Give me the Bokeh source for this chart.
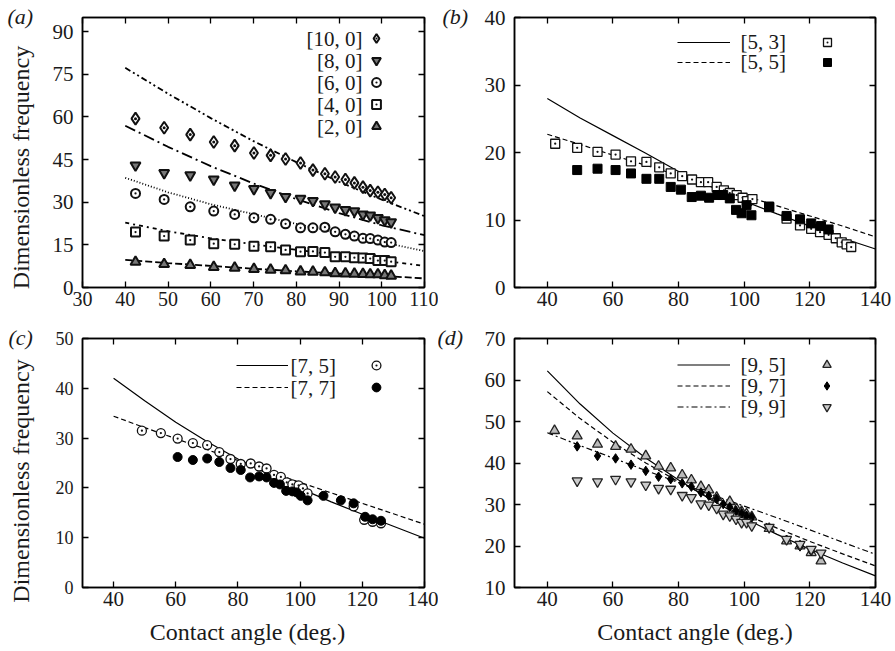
import math
from bokeh.plotting import figure
from bokeh.models import Range1d, LinearAxis, FixedTicker, Label, Legend, LegendItem
from bokeh.layouts import column, row
from bokeh.embed import file_html
from bokeh.resources import INLINE

FONT = "Liberation Serif"
INK = "#1a1a1a"
NB = "\u00a0"

# ---------------- data ----------------
# curve sample angles
line_x_a = [40, 50, 60, 70, 80, 90, 100, 110]
line_x = [40, 50, 60, 70, 80, 90, 100, 110, 120, 130, 140]

# panel (a): [n, 0] modes
a_angle = [42.4, 49.1, 55.2, 60.7, 65.6, 70.1, 74.0, 77.5, 81.0, 83.9, 86.7,
           89.1, 91.5, 93.6, 95.6, 97.3, 99.1, 100.7, 102.2]
a_10_0 = [59.4, 56.2, 53.8, 51.2, 49.9, 47.3, 46.5, 45.2, 43.8, 41.3, 40.0,
          38.9, 38.0, 36.8, 35.3, 34.1, 33.5, 32.7, 31.6]
a_8_0 = [43.0, 40.3, 39.5, 38.0, 35.9, 34.7, 33.3, 31.9, 31.3, 30.5, 29.3,
         28.2, 27.3, 26.9, 25.7, 25.4, 24.5, 23.7, 23.0]
a_6_0 = [33.1, 31.0, 28.4, 26.9, 25.7, 24.5, 24.0, 22.4, 21.0, 21.0, 21.2,
         19.6, 18.7, 18.1, 17.3, 17.2, 16.7, 16.0, 15.8]
a_4_0 = [19.5, 18.1, 16.7, 15.4, 15.2, 14.5, 14.3, 13.2, 12.6, 12.7, 12.3,
         10.8, 10.8, 10.5, 10.4, 10.2, 9.5, 9.5, 9.1]
a_2_0 = [9.0, 8.2, 7.9, 7.2, 6.9, 6.5, 6.2, 6.0, 5.6, 5.5, 5.3,
         5.0, 4.9, 4.8, 4.7, 4.6, 4.6, 4.3, 4.1]
a_line_10_0 = [77.3, 68.2, 59.6, 51.5, 44.1, 37.2, 30.9, 25.1]
a_line_8_0 = [56.9, 49.5, 42.7, 36.6, 31.1, 26.2, 21.9, 18.4]
a_line_6_0 = [38.6, 33.5, 29.3, 25.8, 22.4, 19.2, 16.0, 12.8]
a_line_4_0 = [22.8, 19.8, 17.3, 15.2, 13.3, 11.4, 9.5, 7.6]
a_line_2_0 = [9.7, 8.6, 7.6, 6.6, 5.7, 4.9, 4.1, 3.2]

# panel (b)
b_53_x = [42.4, 49.1, 55.3, 60.8, 65.5, 70.2, 74.1, 77.6, 81.1, 84.1, 86.8, 89.0,
          91.6, 93.8, 95.6, 97.7, 99.5, 100.9, 102.5, 107.6, 112.9, 117.0, 120.4,
          123.1, 125.7, 127.9, 129.7, 131.2, 132.6]
b_53_y = [21.3, 20.7, 20.1, 19.7, 18.7, 18.6, 17.8, 16.9, 16.5, 16.0, 15.6, 15.6,
          14.9, 14.4, 14.0, 13.7, 13.3, 12.8, 13.1, 11.9, 10.2, 9.2, 8.7,
          8.2, 7.8, 7.3, 6.7, 6.4, 6.0]
b_55_x = [49.1, 55.3, 60.8, 65.5, 70.2, 74.1, 77.6, 80.7, 84.0, 86.8, 89.3, 91.8,
          93.6, 95.6, 97.5, 99.2, 100.7, 102.2, 107.6, 112.9, 117.0, 120.4, 123.4, 125.7]
b_55_y = [17.4, 17.6, 17.4, 16.9, 16.1, 16.1, 14.9, 14.5, 13.4, 13.6, 13.3, 13.7,
          13.7, 13.2, 11.5, 11.0, 12.2, 10.7, 12.0, 10.6, 10.1, 9.5, 9.1, 8.6]
b_line_53 = [28.0, 25.1, 22.5, 19.9, 17.2, 14.9, 12.8, 10.9, 9.1, 7.3, 5.7]
b_line_55 = [22.7, 21.2, 19.6, 18.1, 16.6, 15.1, 13.6, 12.1, 10.6, 9.1, 7.5]

# panel (c)
c_75_x = [49.1, 55.2, 60.6, 65.5, 70.1, 74.0, 77.6, 80.9, 84.1, 86.8, 89.2, 91.6,
          93.8, 95.7, 97.5, 99.5, 100.9, 102.4, 117.2, 120.6, 123.3, 126.0]
c_75_y = [31.5, 31.0, 29.9, 29.0, 28.6, 27.2, 25.8, 24.8, 24.9, 24.3, 23.9, 22.6,
          22.2, 21.1, 20.7, 20.5, 19.9, 18.9, 16.3, 13.6, 13.2, 12.9]
c_77_x = [60.6, 65.5, 70.1, 74.0, 77.6, 80.9, 83.9, 86.8, 89.2, 91.6, 93.5, 95.5,
          97.5, 98.9, 100.2, 102.4, 107.5, 113.1, 117.2, 120.9, 123.3, 126.0]
c_77_y = [26.2, 25.6, 25.9, 25.2, 24.0, 23.6, 22.1, 22.3, 22.1, 21.0, 20.7, 19.4,
          19.3, 19.1, 18.4, 17.5, 18.4, 17.5, 16.9, 14.2, 13.7, 13.4]
c_line_75 = [42.0, 37.5, 33.2, 29.3, 25.8, 22.7, 19.9, 17.2, 14.7, 12.3, 9.9]
c_line_77 = [34.4, 32.1, 29.9, 27.7, 25.5, 23.3, 21.1, 19.0, 16.9, 14.8, 12.7]

# panel (d)
d_95_x = [42.2, 49.1, 55.3, 60.8, 65.5, 70.0, 73.9, 77.6, 81.1, 83.9, 86.8, 89.2,
          91.6, 95.6, 97.7, 99.2, 100.7, 102.3, 107.6, 112.9, 117.0, 120.4, 123.4]
d_95_y = [47.8, 46.5, 44.5, 44.0, 43.3, 41.7, 39.2, 38.8, 37.1, 35.9, 34.3, 33.5,
          31.7, 30.7, 28.9, 28.3, 27.7, 27.0, 24.2, 21.2, 20.0, 18.4, 16.4]
d_97_x = [49.1, 55.3, 60.8, 65.5, 70.0, 73.9, 77.6, 81.1, 83.9, 86.8, 89.2, 91.6,
          93.6, 95.6, 97.5, 99.2, 100.7, 102.3, 112.9, 117.0, 120.4]
d_97_y = [44.0, 41.7, 41.1, 39.6, 38.1, 36.7, 36.1, 35.1, 34.3, 32.9, 32.1, 31.4,
          30.1, 29.4, 28.5, 27.9, 27.3, 26.9, 21.5, 19.9, 18.8]
d_99_x = [49.1, 55.3, 60.8, 65.5, 70.0, 73.9, 77.6, 81.1, 83.9, 86.8, 89.2, 91.6,
          93.6, 95.6, 97.5, 99.2, 100.7, 102.3, 107.6, 112.9, 117.0, 120.4, 123.4]
d_99_y = [35.7, 35.5, 36.1, 35.5, 34.7, 33.9, 33.7, 32.2, 31.7, 30.2, 29.9, 29.1,
          27.7, 27.3, 26.5, 25.7, 25.7, 24.9, 24.5, 21.6, 20.4, 19.2, 18.3]
d_line_95 = [62.2, 54.2, 47.2, 41.2, 35.9, 31.1, 26.7, 22.8, 19.2, 15.9, 12.8]
d_line_97 = [57.2, 50.7, 45.0, 40.0, 35.5, 31.4, 27.7, 24.3, 21.1, 18.1, 15.2]
d_line_99 = [47.3, 44.2, 41.2, 38.2, 35.3, 32.4, 29.6, 26.8, 23.9, 20.9, 18.0]

labels_a = ["[10, 0]", "[8, 0]", "[6, 0]", "[4, 0]", "[2, 0]"]
labels_b = ["[5, 3]", "[5, 5]"]
labels_c = ["[7, 5]", "[7, 7]"]
labels_d = ["[9, 5]", "[9, 7]", "[9, 9]"]

ticks_a_x = [30, 40, 50, 60, 70, 80, 90, 100, 110]
ticks_a_y = [0, 15, 30, 45, 60, 75, 90]
ticks_x = [40, 60, 80, 100, 120, 140]
ticks_b_y = [0, 10, 20, 30, 40]
ticks_c_y = [0, 10, 20, 30, 40, 50]
ticks_d_y = [10, 20, 30, 40, 50, 60, 70]

Y_TITLE = "Dimensionless frequency"
X_TITLE = "Contact angle (deg.)"


# ---------------- helpers ----------------
def style_axis(ax, ticks, size, standoff, show=True):
    ax.ticker = FixedTicker(ticks=ticks)
    ax.axis_line_color = "black"
    ax.axis_line_width = 1.5
    ax.major_tick_in = 6
    ax.major_tick_out = 0
    ax.major_tick_line_width = 1.3
    ax.major_tick_line_color = "black"
    ax.minor_tick_in = 0
    ax.minor_tick_out = 0
    ax.major_label_text_font = FONT
    ax.axis_label_text_font = FONT
    ax.axis_label_text_font_style = "normal"
    ax.axis_label_text_color = INK
    ax.axis_label_text_font_size = "24px"
    if show:
        ax.major_label_text_color = INK
        ax.major_label_text_font_size = size
        ax.major_label_standoff = standoff
    else:
        ax.major_label_text_color = None
        ax.major_label_text_font_size = "1px"
        ax.major_label_standoff = 0


def make_fig(tag, tag_offset, tag_standoff, xr, yr, xt, yt, w, h,
             bl, br, bt, bb, xsize="21px", ysize="21px"):
    p = figure(width=w, height=h, x_range=Range1d(*xr), y_range=Range1d(*yr),
               output_backend="svg", toolbar_location=None, tools="", title=tag,
               min_border_left=bl, min_border_right=br,
               min_border_top=bt, min_border_bottom=bb)
    p.title.text_font = FONT
    p.title.text_font_size = "22px"
    p.title.text_font_style = "italic"
    p.title.text_color = INK
    p.title.align = "left"
    p.title.offset = tag_offset
    p.title.vertical_align = "bottom"
    try:
        p.title.standoff = tag_standoff
    except ValueError:
        p.title.standoff = 0
    p.xgrid.visible = False
    p.ygrid.visible = False
    xb = p.below[0]
    yl = p.left[0]
    style_axis(xb, xt, xsize, 4)
    style_axis(yl, yt, ysize, 9)
    top = LinearAxis()
    style_axis(top, xt, "1px", 0, show=False)
    right = LinearAxis()
    style_axis(right, yt, "1px", 0, show=False)
    p.add_layout(top, "above")
    p.add_layout(right, "right")
    p.outline_line_color = "black"
    p.outline_line_width = 1.5
    p.background_fill_color = "white"
    p.border_fill_color = "white"
    return p, xb, yl


def add_text(p, x, y, text, size, align="left"):
    p.add_layout(Label(x=x, y=y, x_units="screen", y_units="screen", text=text,
                       text_font=FONT, text_font_size=size, text_align=align,
                       text_baseline="middle", text_color=INK))


def key_legend(p, renderers, vx, vy, gw, gh):
    items = [LegendItem(label=" ", renderers=[r]) for r in renderers]
    lg = Legend(items=items, location=(vx, vy), glyph_width=gw, glyph_height=gh,
                label_width=0, label_height=0, label_standoff=0, padding=0,
                spacing=0, margin=0, border_line_color=None,
                background_fill_alpha=0, label_text_font_size="1px",
                label_text_color=None)
    p.add_layout(lg)


# ---------------- panel (a) ----------------
pa, pa_x, pa_y = make_fig("(a)", -75, -22, (30, 110), (0, 95), ticks_a_x, ticks_a_y,
                          438, 318, 82, 14, 17, 30, xsize="20px", ysize="21px")
pa_y.axis_label = Y_TITLE + NB * 5
pa_y.axis_label_standoff = 16
LW_A = 1.8
pa.line(line_x_a, a_line_10_0, line_color="black", line_width=LW_A, line_dash="6 3 2 3 2 3")
pa.line(line_x_a, a_line_8_0, line_color="black", line_width=LW_A, line_dash="11 4 2 4")
pa.line(line_x_a, a_line_6_0, line_color="black", line_width=LW_A, line_dash="1 2")
pa.line(line_x_a, a_line_4_0, line_color="black", line_width=LW_A, line_dash="4 4 2 4")
pa.line(line_x_a, a_line_2_0, line_color="black", line_width=LW_A, line_dash="7 3")
ra10 = pa.scatter(a_angle, a_10_0, marker="diamond_dot", size=12,
                  fill_color="white", line_color="#111", line_width=2)
ra8 = pa.scatter(a_angle, a_8_0, marker="inverted_triangle", size=10,
                 fill_color="#777", line_color="#111", line_width=2)
ra6 = pa.scatter(a_angle, a_6_0, marker="circle_dot", size=9,
                 fill_color="white", line_color="#111", line_width=2)
ra4 = pa.scatter(a_angle, a_4_0, marker="square_dot", size=9,
                 fill_color="white", line_color="#111", line_width=2)
ra2 = pa.scatter(a_angle, a_2_0, marker="triangle", size=10,
                 fill_color="#777", line_color="#111", line_width=2)
for i, t in enumerate(labels_a):
    add_text(pa, 280, 248.5 - 22 * i, t, "21px", align="right")
key_legend(pa, [ra10, ra8, ra6, ra4, ra2], 283, 150, 22, 22)

# ---------------- panel (b) ----------------
pb, pb_x, pb_y = make_fig("(b)", -72, -22, (30, 140), (0, 40), ticks_x, ticks_b_y,
                          457, 318, 76, 20, 17, 31)
lb1 = pb.line(line_x, b_line_53, line_color="black", line_width=1.2)
lb2 = pb.line(line_x, b_line_55, line_color="black", line_width=1.2, line_dash="5 3")
rb1 = pb.scatter(b_53_x, b_53_y, marker="square_dot", size=9, fill_color="white",
                 line_color="#111", line_width=1.3)
rb2 = pb.scatter(b_55_x, b_55_y, marker="square", size=9, fill_color="black",
                 line_color="black", line_width=1)
key_legend(pb, [lb1, lb2], 163, 215, 53, 20)
key_legend(pb, [rb1, rb2], 302, 215, 22, 20)
for i, t in enumerate(labels_b):
    add_text(pb, 226, 245.3 - 20 * i, t, "21px")

# ---------------- panel (c) ----------------
pc, pc_x, pc_y = make_fig("(c)", -74, -22, (30, 140), (0, 50), ticks_x, ticks_c_y,
                          438, 333, 82, 14, 20, 64, xsize="21px", ysize="18px")
pc_y.axis_label = Y_TITLE + NB * 6
pc_y.axis_label_standoff = 19
pc_x.axis_label = X_TITLE + NB * 2
pc_x.axis_label_standoff = 10
lc1 = pc.line(line_x, c_line_75, line_color="black", line_width=1.2)
lc2 = pc.line(line_x, c_line_77, line_color="black", line_width=1.2, line_dash="5 3")
rc1 = pc.scatter(c_75_x, c_75_y, marker="circle_dot", size=9, fill_color="white",
                 line_color="#111", line_width=1.3)
rc2 = pc.scatter(c_77_x, c_77_y, marker="circle", size=9, fill_color="black",
                 line_color="black", line_width=1)
key_legend(pc, [lc1, lc2], 154, 189, 52, 22)
key_legend(pc, [rc1, rc2], 283, 189, 22, 22)
for i, t in enumerate(labels_c):
    add_text(pc, 208, 222 - 22 * i, t, "21px")

# ---------------- panel (d) ----------------
pd, pd_x, pd_y = make_fig("(d)", -77, -22, (30, 140), (10, 70), ticks_x, ticks_d_y,
                          457, 333, 76, 20, 20, 64)
pd_x.axis_label = X_TITLE
pd_x.axis_label_standoff = 10
ld1 = pd.line(line_x, d_line_95, line_color="black", line_width=1.2)
ld2 = pd.line(line_x, d_line_97, line_color="black", line_width=1.2, line_dash="5 3")
ld3 = pd.line(line_x, d_line_99, line_color="black", line_width=1.2, line_dash="6 3 2 3")
rd1 = pd.scatter(d_95_x, d_95_y, marker="triangle", size=10, fill_color="#bbbbbb",
                 line_color="#222", line_width=1.3)
rd2 = pd.scatter(d_97_x, d_97_y, marker="diamond", size=9.5,
                 fill_color="black", line_color="black", line_width=1)
rd3 = pd.scatter(d_99_x, d_99_y, marker="inverted_triangle", size=10,
                 fill_color="#cccccc", line_color="#222", line_width=1.3)
key_legend(pd, [ld1, ld2, ld3], 163, 170, 53, 21)
key_legend(pd, [rd1, rd2, rd3], 302, 170, 21, 21)
for i, t in enumerate(labels_d):
    add_text(pd, 226, 223 - 21 * i, t, "21px")

layout = column(row(pa, pb), row(pc, pd))
open("out.html", "w").write(file_html(layout, INLINE))
